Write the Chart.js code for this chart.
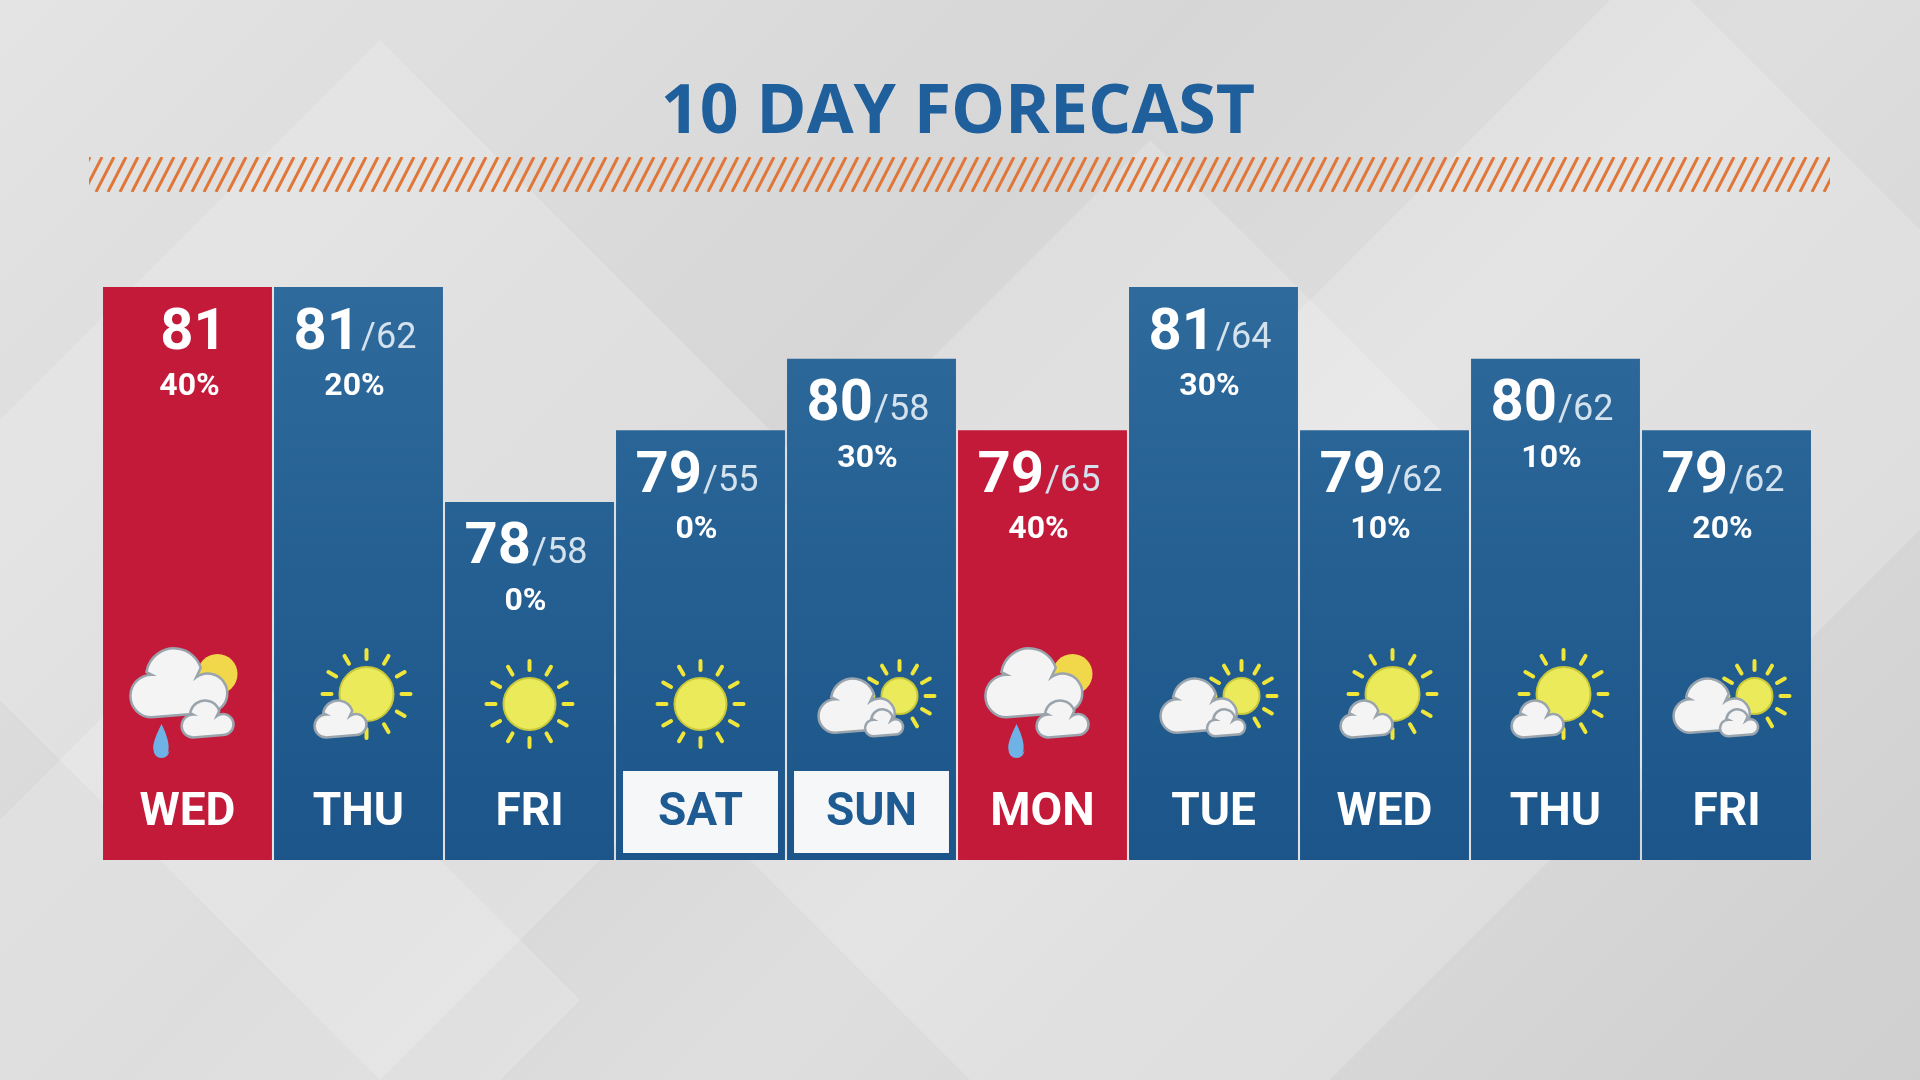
<!DOCTYPE html>
<html><head><meta charset="utf-8">
<script src="https://cdn.jsdelivr.net/npm/chart.js@4.4.0/dist/chart.umd.min.js"></script>
<style>
html,body{margin:0;padding:0;width:1920px;height:1080px;overflow:hidden;
background:linear-gradient(135deg,#e4e4e4 0%,#d6d6d6 40%,#dedede 60%,#cfcfcf 100%);}
#bg{position:absolute;left:0;top:0;width:1920px;height:1080px;}
#wrap{position:absolute;left:0;top:0;width:1920px;height:1080px;}
</style></head><body>
<canvas id="bg" width="1920" height="1080"></canvas>
<div id="wrap"><canvas id="c" width="1920" height="1080"></canvas></div>
<script>
const days = ['WED','THU','FRI','SAT','SUN','MON','TUE','WED','THU','FRI'];
const highs = [81,81,78,79,80,79,81,79,80,79];
const lows = [null,62,58,55,58,65,64,62,62,62];
const precip = ['40%','20%','0%','0%','30%','40%','30%','10%','10%','20%'];
const icons = ['storm','sunCloud','sun','sun','partly','storm','partly','sunCloud','sunCloud','partly'];
const alert = [true,false,false,false,false,true,false,false,false,false];
const boxed = [false,false,false,true,true,false,false,false,false,false];

// background diamonds + title + stripe
(function(){
  const g=document.getElementById('bg').getContext('2d');
  g.fillStyle='rgba(255,255,255,0.18)';
  [[380,560,520],[1150,700,560],[1650,380,420],[200,1000,380]].forEach(([x,y,r])=>{
    g.beginPath();g.moveTo(x,y-r);g.lineTo(x+r,y);g.lineTo(x,y+r);g.lineTo(x-r,y);g.closePath();g.fill();});
  g.fillStyle='#1e5f9c';g.font='bold 68px "Open Sans", Roboto, sans-serif';g.textAlign='center';g.textBaseline='middle';
  g.fillText('10 DAY FORECAST',958,114);
  g.save();g.beginPath();g.rect(89,157,1741,35);g.clip();
  g.strokeStyle='#e0773a';g.lineWidth=3;
  for(let x=60;x<1860;x+=12){g.beginPath();g.moveTo(x,192);g.lineTo(x+18,157);g.stroke();}
  g.restore();
})();

function sun(g,x,y,r){
  g.strokeStyle='#f0e63a';g.lineWidth=4;g.lineCap='round';
  for(let i=0;i<12;i++){const a=i*Math.PI/6;g.beginPath();
    g.moveTo(x+Math.cos(a)*(r+8),y+Math.sin(a)*(r+8));g.lineTo(x+Math.cos(a)*(r+17),y+Math.sin(a)*(r+17));g.stroke();}
  g.fillStyle='#eaea5a';g.beginPath();g.arc(x,y,r,0,Math.PI*2);g.fill();
  g.strokeStyle='#c8c83a';g.lineWidth=2;g.stroke();
}
function cloud(g,x,y,s){
  g.fillStyle='#f4f4f4';g.strokeStyle='#9aa4ad';g.lineWidth=2.5;
  g.beginPath();
  g.arc(x-s*0.55,y,s*0.38,Math.PI*0.5,Math.PI*1.5);
  g.arc(x-s*0.15,y-s*0.35,s*0.5,Math.PI*1.05,Math.PI*1.9);
  g.arc(x+s*0.45,y-s*0.05,s*0.35,Math.PI*1.3,Math.PI*0.5);
  g.closePath();g.fill();g.stroke();
}
function drawIcon(g,type,x,y){
  if(type==='sun'){sun(g,x,y,26);}
  else if(type==='sunCloud'){sun(g,x+8,y-10,27);cloud(g,x-16,y+22,30);}
  else if(type==='partly'){sun(g,x+28,y-8,18);cloud(g,x-12,y+12,44);cloud(g,x+14,y+24,22);}
  else if(type==='storm'){
    g.fillStyle='#f0d84a';g.beginPath();g.arc(x+30,y-30,20,0,Math.PI*2);g.fill();
    cloud(g,x-5,y-8,56);cloud(g,x+22,y+22,30);
    g.fillStyle='#6fb2e6';g.beginPath();g.moveTo(x-26,y+20);g.quadraticCurveTo(x-16,y+40,x-20,y+50);
    g.arc(x-26,y+46,8,0,Math.PI);g.quadraticCurveTo(x-36,y+40,x-26,y+20);g.fill();
  }
}

const labelPlugin={id:'labels',afterDatasetsDraw(chart){
  const g=chart.ctx;const meta=chart.getDatasetMeta(0);
  meta.data.forEach((b,i)=>{
    const cx=b.x, top=b.y, w=b.width, left=cx-w/2;
    g.save();g.textBaseline='middle';
    const hs=String(highs[i]);
    g.font='bold 58px "Liberation Sans Narrow", Roboto, sans-serif';
    const hw=g.measureText(hs).width;
    let lw=0; const ls=lows[i]===null?'':'/'+lows[i];
    g.font='36px "Liberation Sans Narrow", Roboto, sans-serif';
    if(ls) lw=g.measureText(ls).width;
    const sx=cx-(hw+lw)/2+(ls?-4:6);
    g.textAlign='left';g.fillStyle='#fff';
    g.font='bold 58px "Liberation Sans Narrow", Roboto, sans-serif';g.fillText(hs,sx,top+47);
    g.fillStyle='#d4e2ee';g.font='36px "Liberation Sans Narrow", Roboto, sans-serif';g.fillText(ls,sx+hw+1,top+52);
    g.textAlign='center';g.fillStyle='#fff';
    g.font='bold 32px "Liberation Sans Narrow", Roboto, sans-serif';g.fillText(precip[i],cx+(ls?-4:2),top+100);
    drawIcon(g,icons[i],cx,704);
    if(boxed[i]){g.fillStyle='#f6f7f8';g.fillRect(left+7,771,w-14,82);g.fillStyle='#1d5b92';}
    else g.fillStyle='#fff';
    g.font='bold 46px "Liberation Sans Narrow", Roboto, sans-serif';g.fillText(days[i],cx,813);
    g.restore();
  });
}};

new Chart(document.getElementById('c'),{
  type:'bar',
  data:{labels:days,datasets:[{data:highs,
    backgroundColor:ctx=>{const i=ctx.dataIndex;if(alert[i])return '#c41a3a';
      const ch=ctx.chart;if(!ch.chartArea)return '#215d91';
      const gr=ch.ctx.createLinearGradient(0,ch.chartArea.top,0,ch.chartArea.bottom);
      gr.addColorStop(0,'#2f6a9c');gr.addColorStop(1,'#1b5589');return gr;},
    borderWidth:0,barPercentage:1,categoryPercentage:0.988}]},
  options:{responsive:false,animation:false,devicePixelRatio:1,
    layout:{padding:{left:102,right:108,top:287,bottom:220}},
    plugins:{legend:{display:false},tooltip:{enabled:false}},
    scales:{x:{display:false},y:{display:false,min:73,max:81}}},
  plugins:[labelPlugin]
});
</script></body></html>
